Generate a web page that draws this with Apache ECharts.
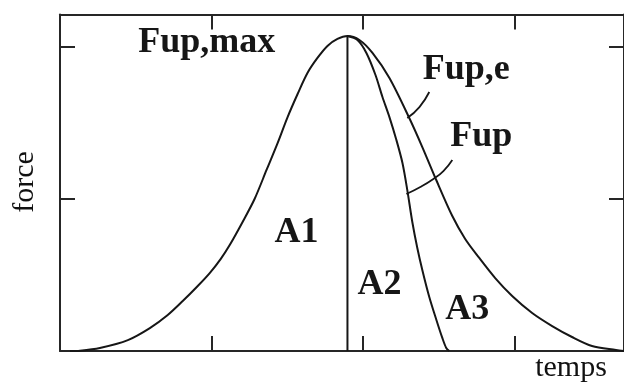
<!DOCTYPE html>
<html>
<head>
<meta charset="utf-8">
<script src="https://cdn.jsdelivr.net/npm/echarts@6/dist/echarts.min.js"></script>
<style>
  html, body { margin: 0; padding: 0; background: #ffffff; }
  #chart { width: 624px; height: 385px; }
</style>
</head>
<body>
<div id="chart"></div>
<script>
// Time axis (arbitrary units, ticks every 1) and force axis (arbitrary units).
const timeMax = 3.722;
const forceMax = 2.214;

// Equivalent force curve Fup,e : [time, force]
const fupE = [
  [0.066, 0], [0.132, 0.002], [0.263, 0.020], [0.448, 0.072], [0.593, 0.151],
  [0.711, 0.237], [0.810, 0.329], [0.909, 0.428], [0.988, 0.513], [1.060, 0.605],
  [1.120, 0.697], [1.205, 0.849], [1.284, 1.000], [1.363, 1.191], [1.436, 1.368],
  [1.502, 1.539], [1.568, 1.691], [1.633, 1.829], [1.699, 1.928], [1.765, 2.007],
  [1.831, 2.053], [1.897, 2.072],
  [1.976, 2.046], [2.062, 1.961], [2.174, 1.796], [2.305, 1.533], [2.391, 1.342],
  [2.483, 1.125], [2.589, 0.888], [2.674, 0.737], [2.767, 0.612], [2.872, 0.480],
  [2.984, 0.362], [3.116, 0.250], [3.248, 0.164], [3.379, 0.092], [3.511, 0.033],
  [3.669, 0.007], [3.722, 0]
];

// Actual force curve Fup after the peak : [time, force]
const fup = [
  [1.897, 2.072], [1.963, 2.046], [2.022, 1.961], [2.082, 1.816], [2.128, 1.671],
  [2.174, 1.539], [2.220, 1.388], [2.260, 1.237], [2.292, 1.059], [2.325, 0.849],
  [2.358, 0.678], [2.391, 0.533], [2.437, 0.355], [2.484, 0.204], [2.523, 0.086],
  [2.549, 0.020], [2.569, 0]
];

// Leader strokes from the curve names to their curves
const leaderFupE = [[2.437, 1.704], [2.372, 1.605], [2.292, 1.533]];
const leaderFup = [[2.589, 1.257], [2.530, 1.184], [2.464, 1.132], [2.378, 1.079], [2.286, 1.033]];

// Annotation names and where they sit in data space
const noteNames = ['Fup,max', 'Fup,e', 'Fup', 'A1', 'A2', 'A3'];
const noteAt = [[0.968, 2.026], [2.681, 1.849], [2.780, 1.408], [1.561, 0.776], [2.108, 0.434], [2.688, 0.270]];

const axisTitleY = 'force';
const axisTitleX = 'temps';

// Peak of Fup,e gives the vertical divider between A1 and A2
const peak = fupE.reduce((a, b) => (b[1] > a[1] ? b : a));
const divider = [[peak[0], 0], [peak[0], peak[1]]];

const ink = '#161616';
const serif = 'Liberation Serif';

function frameAxis(position, max) {
  return {
    type: 'value',
    position: position,
    min: 0,
    max: max,
    interval: 1,
    axisLine: { show: true, onZero: false, lineStyle: { color: '#262626', width: 2 } },
    axisTick: { show: true, inside: true, length: 15, lineStyle: { color: '#262626', width: 2 } },
    axisLabel: { show: false },
    splitLine: { show: false }
  };
}

const curveStyle = { color: ink, width: 2 };

const chart = echarts.init(document.getElementById('chart'), null, { renderer: 'canvas' });
chart.setOption({
  animation: false,
  backgroundColor: '#ffffff',
  grid: { left: 60, right: -1, top: 14.5, bottom: 34, containLabel: false },
  xAxis: [frameAxis('bottom', timeMax), frameAxis('top', timeMax)],
  yAxis: [frameAxis('left', forceMax), frameAxis('right', forceMax)],
  series: [
    {
      name: 'Fup,e', type: 'line', data: fupE, smooth: 0.3,
      symbol: 'none', lineStyle: curveStyle
    },
    {
      name: 'Fup', type: 'line', data: fup, smooth: 0.3,
      symbol: 'none', lineStyle: curveStyle
    },
    {
      name: 'divider', type: 'line', data: divider,
      symbol: 'none', lineStyle: curveStyle
    },
    {
      name: 'leader Fup,e', type: 'line', data: leaderFupE, smooth: 0.5,
      symbol: 'none', lineStyle: { color: ink, width: 1.8 }
    },
    {
      name: 'leader Fup', type: 'line', data: leaderFup, smooth: 0.5,
      symbol: 'none', lineStyle: { color: ink, width: 1.8 }
    },
    {
      name: 'notes', type: 'scatter', symbolSize: 0,
      itemStyle: { opacity: 1 },
      data: noteNames.map((n, i) => ({ name: n, value: noteAt[i] })),
      label: {
        show: true, position: 'inside', formatter: '{b}', opacity: 1,
        fontFamily: serif, fontWeight: 'bold', fontSize: 36, color: ink
      },
      z: 5
    }
  ],
  graphic: [
    {
      type: 'text', x: 25, y: 182, rotation: Math.PI / 2,
      style: {
        text: axisTitleY, font: '30px "Liberation Serif"', fill: '#111',
        textAlign: 'center', textVerticalAlign: 'middle'
      }
    },
    {
      type: 'text', x: 571, y: 368,
      style: {
        text: axisTitleX, font: '30px "Liberation Serif"', fill: '#111',
        textAlign: 'center', textVerticalAlign: 'middle'
      }
    }
  ]
});
</script>
</body>
</html>
